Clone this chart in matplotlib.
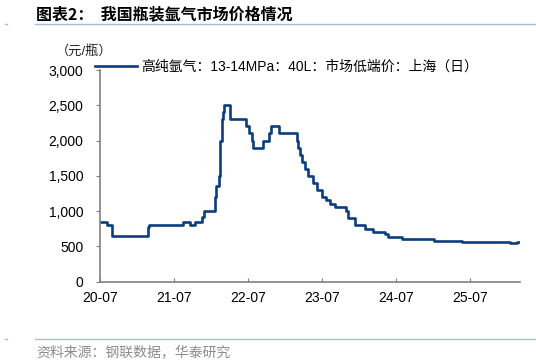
import matplotlib
matplotlib.use("Agg")
import matplotlib.pyplot as plt
import matplotlib.ticker as mticker
from matplotlib.lines import Line2D
import pandas as pd

plt.rcParams['font.family'] = ['Liberation Sans', 'Noto Sans CJK SC', 'DejaVu Sans']

# step-change dates and price (元/瓶)
dates = ['2020-07-01', '2020-08-06', '2020-08-29', '2021-02-21', '2021-03-02',
         '2021-08-16', '2021-09-18', '2021-10-15', '2021-11-15', '2021-11-28',
         '2022-01-19', '2022-01-25', '2022-02-06', '2022-02-15', '2022-02-22',
         '2022-03-01', '2022-03-06', '2022-04-03', '2022-06-24', '2022-07-06',
         '2022-07-19', '2022-07-27', '2022-09-15', '2022-10-13', '2022-10-22',
         '2022-12-01', '2023-02-28', '2023-03-06', '2023-03-13', '2023-03-25',
         '2023-04-10', '2023-04-22', '2023-05-16', '2023-06-05', '2023-06-30',
         '2023-07-21', '2023-08-10', '2023-09-04', '2023-10-28', '2023-11-07',
         '2023-12-12', '2024-02-01', '2024-03-11', '2024-05-08', '2024-05-24',
         '2024-07-29', '2025-01-03', '2025-05-21', '2026-01-16', '2026-02-18',
         '2026-03-01']
prices = [850, 800, 650, 770, 800,
          850, 800, 850, 920, 1000,
          1200, 1350, 1500, 2000, 2300,
          2400, 2500, 2300, 2200, 2100,
          2000, 1900, 2000, 2100, 2200,
          2100, 2000, 1900, 1800, 1700,
          1600, 1500, 1400, 1300, 1200,
          1150, 1100, 1050, 1000, 900,
          800, 750, 700, 680, 630,
          600, 575, 565, 550, 565,
          565]

xtick_dates = ['2020-07-01', '2021-07-01', '2022-07-01', '2023-07-01', '2024-07-01', '2025-07-01']
xtick_labels = ['20-07', '21-07', '22-07', '23-07', '24-07', '25-07']
yticks = [0, 500, 1000, 1500, 2000, 2500, 3000]

series_name = '高纯氩气：13-14MPa：40L：市场低端价：上海（日）'
title = '图表2：  我国瓶装氩气市场价格情况'
unit = '（元/瓶）'
source = '资料来源：钢联数据，华泰研究'

x = pd.to_datetime(dates)

fig = plt.figure(figsize=(5.36, 3.61), dpi=100)
ax = fig.add_axes([0.1866, 0.2202, 0.7834, 0.5858])

ax.plot(x, prices, drawstyle='steps-post', color='#0b3d80', linewidth=1.9, label=series_name)

ax.set_xlim(pd.Timestamp('2020-07-01'), pd.Timestamp('2026-03-05'))
ax.set_ylim(0, 3000)
ax.set_xticks(pd.to_datetime(xtick_dates))
ax.set_xticklabels(xtick_labels)
ax.set_yticks(yticks)
ax.yaxis.set_major_formatter(mticker.StrMethodFormatter('{x:,.0f}'))

for s in ['top', 'right']:
    ax.spines[s].set_visible(False)
for s in ['left', 'bottom']:
    ax.spines[s].set_color('#808080')
    ax.spines[s].set_linewidth(1.2)
ax.tick_params(axis='y', direction='out', length=3, width=0.8, color='#808080', labelsize=10, pad=9)
ax.tick_params(axis='x', direction='in', length=3, width=0.8, color='#808080', labelsize=10, pad=7)

leg = ax.legend(loc='upper left', bbox_to_anchor=(-0.025, 1.075), frameon=False,
                fontsize=10, handlelength=3.0, handletextpad=0.35, borderaxespad=0)

fig.text(0.105, 0.858, unit, fontsize=9.5, color='#222222', ha='left', va='center')

fig.text(0.067, 0.961, title, fontsize=11.5, fontweight='bold', ha='left', va='center',
         family=['Noto Sans CJK SC', 'Liberation Sans'])
fig.add_artist(Line2D([0.066, 1.0], [0.9335, 0.9335], color='#a9bdd1', linewidth=1.0))
fig.add_artist(Line2D([0.066, 1.0], [0.062, 0.062], color='#a9bdd1', linewidth=1.0))
# small marks at the left end of the rules
fig.add_artist(Line2D([0.009, 0.013], [0.9335, 0.9335], color='#a9bdd1', linewidth=1.0))
fig.add_artist(Line2D([0.009, 0.013], [0.062, 0.062], color='#a9bdd1', linewidth=1.0))
fig.text(0.068, 0.0235, source, fontsize=10, color='#8c8c8c', ha='left', va='center',
         family=['Noto Sans CJK SC', 'Liberation Sans'])

fig.savefig('out.png', dpi=100)
